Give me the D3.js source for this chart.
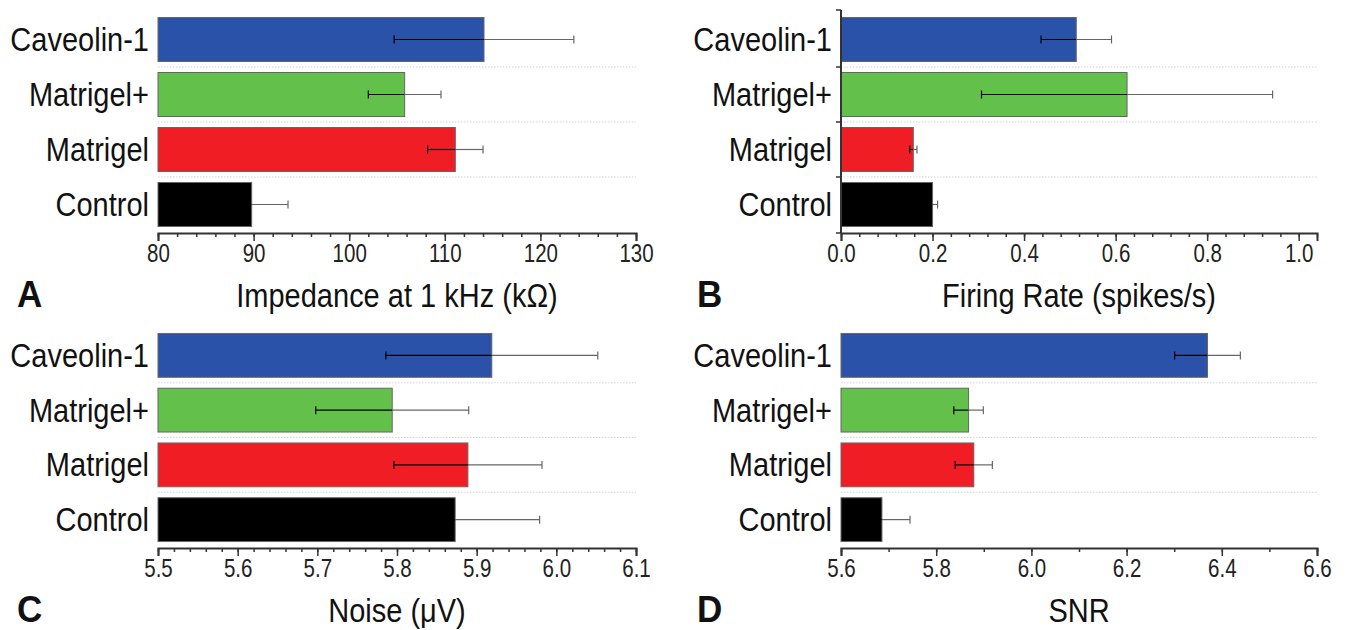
<!DOCTYPE html>
<html>
<head>
<meta charset="utf-8">
<script src="https://cdn.jsdelivr.net/npm/d3@7"></script>
<style>
  body { margin: 0; background: #fff; }
  text { font-family: "Liberation Sans", Arial, sans-serif; fill: #111; }
</style>
</head>
<body>
<script>
const categories = ["Caveolin-1", "Matrigel+", "Matrigel", "Control"];
const barColors = ["#2a52a8", "#63c14b", "#f11d25", "#000000"];

const impedanceMean = [114.1, 105.8, 111.1, 89.8];
const impedanceErr = [9.4, 3.8, 2.9, 3.8];
const impedanceTicks = [80, 90, 100, 110, 120, 130];

const firingMean = [0.514, 0.625, 0.158, 0.2];
const firingErr = [0.077, 0.318, 0.008, 0.011];
const firingTicks = [0, 0.2, 0.4, 0.6, 0.8, 1.0];

const noiseMean = [5.919, 5.794, 5.889, 5.873];
const noiseErr = [0.133, 0.096, 0.093, 0.106];
const noiseTicks = [5.5, 5.6, 5.7, 5.8, 5.9, 6.0, 6.1];

const snrMean = [6.37, 5.868, 5.879, 5.686];
const snrErr = [0.069, 0.031, 0.039, 0.059];
const snrTicks = [5.6, 5.8, 6.0, 6.2, 6.4, 6.6];

const w = 1352;
const h = 630;

const svg = d3.select("body").append("svg").attr("width", w).attr("height", h);

// text in the figure is a bit taller than the font's natural shape
const stretch = 1.15;

function drawPanel(p) {
  const g = svg.append("g");

  const x = d3.scaleLinear().domain(p.domain).range([p.x0, p.x1]);
  const y = d3
    .scaleBand()
    .domain(categories)
    .range([p.top, p.bottom])
    .paddingInner(0.2)
    .paddingOuter(0.1);

  const step = y.step();
  const bounds = categories.slice(0, 3).map((c) => y(c) + y.bandwidth() + (step * 0.2) / 2);

  // dotted separators
  g.selectAll(".sep")
    .data(bounds)
    .enter()
    .append("line")
    .attr("x1", p.x0)
    .attr("x2", p.x1)
    .attr("y1", (d) => d)
    .attr("y2", (d) => d)
    .attr("stroke", "#d4d4d4")
    .attr("stroke-width", 1.2)
    .attr("stroke-dasharray", "1.5,1.5");

  const rows = categories.map((c, i) => ({ c, m: p.mean[i], e: p.err[i], col: barColors[i] }));
  const cy = (d) => y(d.c) + y.bandwidth() / 2;

  g.selectAll(".bar")
    .data(rows)
    .enter()
    .append("rect")
    .attr("x", x(p.domain[0]))
    .attr("y", (d) => y(d.c))
    .attr("width", (d) => x(d.m) - x(p.domain[0]))
    .attr("height", y.bandwidth())
    .attr("fill", (d) => d.col)
    .attr("stroke", "#666")
    .attr("stroke-width", 1);

  // error bars: dark inside the bar, grey outside
  const eb = g.selectAll(".err").data(rows).enter().append("g");
  eb.append("line")
    .attr("x1", (d) => x(d.m - d.e))
    .attr("x2", (d) => x(d.m))
    .attr("y1", cy)
    .attr("y2", cy)
    .attr("stroke", "#000")
    .attr("stroke-width", 1.2);
  eb.append("line")
    .attr("x1", (d) => x(d.m))
    .attr("x2", (d) => x(d.m + d.e))
    .attr("y1", cy)
    .attr("y2", cy)
    .attr("stroke", "#666")
    .attr("stroke-width", 1.2);
  [-1, 1].forEach((s) => {
    eb.append("line")
      .attr("x1", (d) => x(d.m + s * d.e))
      .attr("x2", (d) => x(d.m + s * d.e))
      .attr("y1", (d) => cy(d) - 4)
      .attr("y2", (d) => cy(d) + 4)
      .attr("stroke", s < 0 ? "#000" : "#666")
      .attr("stroke-width", 1.2);
  });

  // x axis with minor ticks
  const axisY = p.bottom + 1;
  const minor = d3.range(p.domain[0], p.domain[1] + p.minor / 2, p.minor);
  g.append("g")
    .attr("transform", `translate(0,${axisY})`)
    .call(d3.axisBottom(x).tickValues(minor).tickSize(4).tickFormat(""))
    .call((a) => a.select(".domain").remove())
    .selectAll("line")
    .attr("stroke", "#333")
    .attr("stroke-width", 1.5);

  const ax = g
    .append("g")
    .attr("transform", `translate(0,${axisY})`)
    .call(
      d3
        .axisBottom(x)
        .tickValues(p.ticks)
        .tickSize(8)
        .tickSizeOuter(8)
        .tickFormat(p.fmt)
    );
  ax.select(".domain").attr("stroke", "#333").attr("stroke-width", 2);
  ax.selectAll("line").attr("stroke", "#333").attr("stroke-width", 1.5);
  ax.selectAll("text")
    .attr("font-size", 20.5)
    .attr("y", 0)
    .attr("dy", null)
    .attr("transform", `translate(0,29) scale(1,1.22)`)
    .style("fill", "#222");

  // y axis (only panel B)
  if (p.yAxis) {
    g.append("line")
      .attr("x1", p.x0)
      .attr("x2", p.x0)
      .attr("y1", p.top - 2)
      .attr("y2", axisY)
      .attr("stroke", "#333")
      .attr("stroke-width", 2);
    g.selectAll(".yt")
      .data([p.top - 2].concat(bounds, [axisY]))
      .enter()
      .append("line")
      .attr("x1", p.x0 - 5)
      .attr("x2", p.x0)
      .attr("y1", (d) => d)
      .attr("y2", (d) => d)
      .attr("stroke", "#333")
      .attr("stroke-width", 1.5);
  }

  // category labels
  g.selectAll(".cat")
    .data(categories)
    .enter()
    .append("text")
    .attr("transform", (d) => `translate(${p.x0 - 9},${y(d) + y.bandwidth() / 2 + 11.5}) scale(1,${stretch})`)
    .attr("text-anchor", "end")
    .attr("font-size", 29)
    .text((d) => d);

  // axis title
  g.append("text")
    .attr("transform", `translate(${(p.x0 + p.x1) / 2},${axisY + 74}) scale(1,${stretch})`)
    .attr("text-anchor", "middle")
    .attr("font-size", 29)
    .text(p.title);

  // panel letter
  g.append("text")
    .attr("transform", `translate(${p.letterX},${axisY + 74}) scale(1,1.05)`)
    .attr("font-size", 35)
    .attr("font-weight", "bold")
    .text(p.letter);
}

const fmt0 = d3.format("d");
const fmt1 = d3.format(".1f");

drawPanel({
  letter: "A", letterX: 17, title: "Impedance at 1 kHz (kΩ)",
  mean: impedanceMean, err: impedanceErr, ticks: impedanceTicks,
  domain: [80, 130], minor: 2, fmt: fmt0,
  x0: 158, x1: 636, top: 12, bottom: 232, yAxis: false,
});

drawPanel({
  letter: "B", letterX: 697, title: "Firing Rate (spikes/s)",
  mean: firingMean, err: firingErr, ticks: firingTicks,
  domain: [0, 1.04], minor: 0.04, fmt: fmt1,
  x0: 841, x1: 1317, top: 12, bottom: 232, yAxis: true,
});

drawPanel({
  letter: "C", letterX: 17, title: "Noise (μV)",
  mean: noiseMean, err: noiseErr, ticks: noiseTicks,
  domain: [5.5, 6.1], minor: 0.02, fmt: fmt1,
  x0: 158, x1: 636, top: 328, bottom: 547, yAxis: false,
});

drawPanel({
  letter: "D", letterX: 697, title: "SNR",
  mean: snrMean, err: snrErr, ticks: snrTicks,
  domain: [5.6, 6.6], minor: 0.1, fmt: fmt1,
  x0: 841, x1: 1317, top: 328, bottom: 547, yAxis: false,
});
</script>
</body>
</html>
